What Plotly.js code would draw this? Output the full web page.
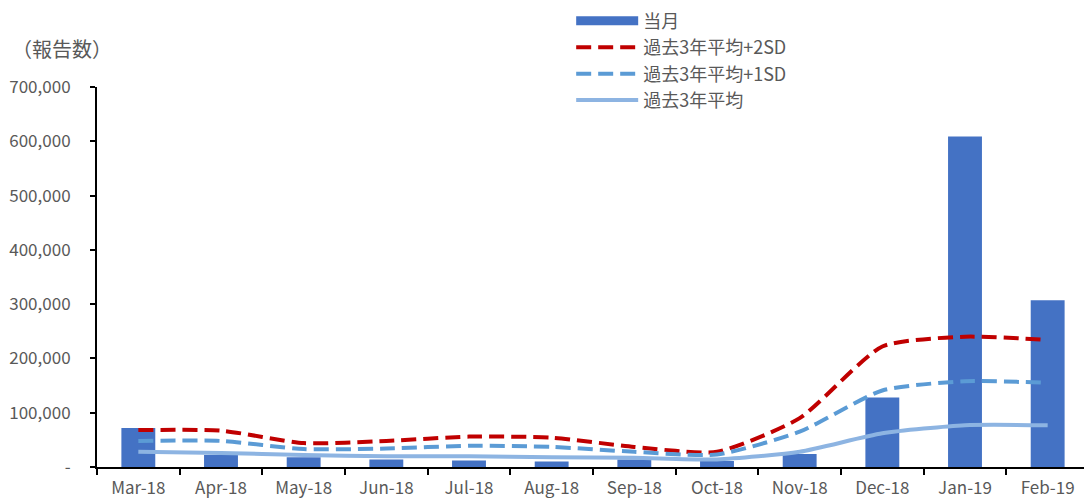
<!DOCTYPE html>
<html><head><meta charset="utf-8">
<script src="https://cdn.plot.ly/plotly-3.0.1.min.js"></script>
<style>html,body{margin:0;padding:0;overflow:hidden;background:#fff}</style>
</head><body>
<div id="chart" style="width:1090px;height:501px"></div>
<script>
const months = ['Mar-18','Apr-18','May-18','Jun-18','Jul-18','Aug-18','Sep-18','Oct-18','Nov-18','Dec-18','Jan-19','Feb-19'];
const current = [72000, 22000, 18000, 14000, 12000, 10000, 14000, 11000, 24000, 128000, 609000, 307000];
const plus2sd = [68000, 67000, 44000, 48000, 56000, 54000, 37000, 28000, 90000, 222000, 240000, 234000];
const plus1sd = [48000, 48000, 33000, 34000, 39000, 37000, 28000, 23000, 65000, 141000, 158000, 155000];
const avg3y   = [28000, 26000, 22000, 20000, 20000, 18000, 17000, 14000, 28000, 62000, 77000, 77000];
const yTickVals = [0, 100000, 200000, 300000, 400000, 500000, 600000, 700000];
const yTickText = ['-', '100,000', '200,000', '300,000', '400,000', '500,000', '600,000', '700,000'];
const names = ['当月', '過去3年平均+2SD', '過去3年平均+1SD', '過去3年平均'];

const FONT = '"Noto Sans CJK JP", "Noto Sans", sans-serif';
const traces = [
  {type:'bar', x: months, y: current, name: names[0], marker:{color:'#4472C4'}, width:0.41, showlegend:false, legendgroup:'cur'},
  {type:'scatter', mode:'lines', x:[months[0]], y:[null], name: names[0], line:{color:'#4472C4', width:9}, legendgroup:'cur', hoverinfo:'skip'},
  {type:'scatter', mode:'lines', x: months, y: plus2sd, name: names[1], line:{color:'#C00000', width:4, dash:'15px,7px', shape:'spline', smoothing:0.6}},
  {type:'scatter', mode:'lines', x: months, y: plus1sd, name: names[2], line:{color:'#5B9BD5', width:4, dash:'15px,7px', shape:'spline', smoothing:0.6}},
  {type:'scatter', mode:'lines', x: months, y: avg3y, name: names[3], line:{color:'#8DB4E2', width:4, shape:'spline', smoothing:0.6}}
];
const layout = {
  width:1090, height:501,
  margin:{l:97, r:1, t:87, b:34},
  paper_bgcolor:'#fff', plot_bgcolor:'#fff',
  font:{family:FONT, color:'#595959', size:17},
  showlegend:true,
  legend:{x:0.478, y:1.222, xanchor:'left', yanchor:'top', bgcolor:'rgba(0,0,0,0)',
          font:{family:FONT, size:18, color:'#595959'}, itemwidth:62, tracegroupgap:0, traceorder:'normal'},
  xaxis:{type:'category', range:[-0.5, 11.5], showline:true, linecolor:'#000', linewidth:2,
         ticks:'outside', tickson:'boundaries', ticklen:6, tickwidth:2, tickcolor:'#000',
         showgrid:false, zeroline:false, tickfont:{family:FONT, size:17, color:'#595959'}, ticklabelstandoff:5, fixedrange:true},
  yaxis:{range:[0, 700000], tickvals:yTickVals, ticktext:yTickText, showline:true, linecolor:'#000', linewidth:2,
         ticks:'outside', ticklen:5, tickwidth:2, tickcolor:'#000', showgrid:false, zeroline:false,
         tickfont:{family:FONT, size:17, color:'#595959'}, ticklabelstandoff:16, fixedrange:true},
  bargap:0.59,
  annotations:[{text:'（報告数）', xref:'paper', yref:'paper', x:-0.088, y:1.10, xanchor:'left', yanchor:'middle',
                showarrow:false, font:{family:FONT, size:20, color:'#595959'}}]
};
Plotly.newPlot('chart', traces, layout, {displayModeBar:false, staticPlot:true});
</script>
</body></html>
